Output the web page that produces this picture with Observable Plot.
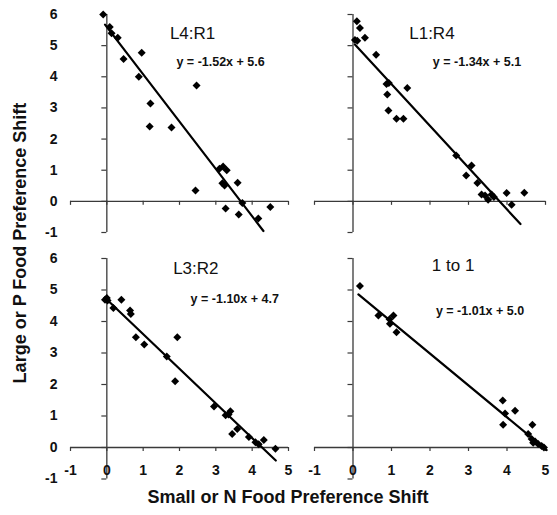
<!DOCTYPE html>
<html>
<head>
<meta charset="utf-8">
<script src="https://cdn.jsdelivr.net/npm/d3@7"></script>
<script src="https://cdn.jsdelivr.net/npm/@observablehq/plot@0.6"></script>
<style>
  body { margin: 0; background: #fff; }
  #chart { position: relative; width: 557px; height: 515px; overflow: hidden;
           font-family: "Liberation Sans", Arial, Helvetica, sans-serif; color: #111; }
  #chart svg { position: absolute; overflow: visible; background: none; }
  .title { position: absolute; font-weight: bold; font-size: 18px; text-align: center; white-space: nowrap; }
  #ytitle { left: -140px; top: 232px; width: 320px; height: 22px; line-height: 22px; transform: rotate(-90deg); }
  #xtitle { left: 88px; top: 486px; width: 400px; line-height: 22px; }
</style>
</head>
<body>
<div id="chart">
  <div class="title" id="ytitle">Large or P Food Preference Shift</div>
  <div class="title" id="xtitle">Small or N Food Preference Shift</div>
</div>
<script>
// Ratio conditions, one per panel
const panelNames = ["L4:R1", "L1:R4", "L3:R2", "1 to 1"];

// Fitted linear trends (y = slope·x + intercept) and the x span they cover
const slopes = [-1.52, -1.34, -1.10, -1.01];
const intercepts = [5.6, 5.1, 4.7, 5.0];
const fitStart = [-0.05, 0.05, 0.0, 0.14];
const fitEnd = [4.31, 4.35, 4.65, 5.03];

// Preference shifts: small / N food (x) vs large / P food (y)
const xL4R1 = [-0.1, 0.08, 0.13, 0.3, 0.46, 0.96, 0.88, 1.2, 1.18, 1.78, 2.47, 2.44, 3.1, 3.2, 3.3, 3.18, 3.24, 3.6, 3.27, 3.73, 3.63, 4.17, 4.5];
const yL4R1 = [6.0, 5.6, 5.4, 5.25, 4.57, 4.77, 4.0, 3.14, 2.4, 2.37, 3.72, 0.35, 1.05, 1.12, 1.0, 0.58, 0.51, 0.6, -0.23, -0.05, -0.42, -0.55, -0.18];

const xL1R4 = [0.10, 0.18, 0.05, 0.11, 0.31, 0.6, 0.87, 0.93, 0.89, 0.92, 1.13, 1.31, 1.41, 2.68, 3.08, 2.94, 3.23, 3.34, 3.43, 3.51, 3.6, 3.66, 3.99, 4.12, 4.45];
const yL1R4 = [5.78, 5.57, 5.18, 5.16, 5.25, 4.71, 3.77, 3.8, 3.43, 2.92, 2.65, 2.65, 3.64, 1.47, 1.15, 0.83, 0.59, 0.22, 0.19, 0.05, 0.22, 0.14, 0.27, -0.11, 0.28];

const xL3R2 = [-0.05, 0.02, 0.0, 0.18, 0.4, 0.64, 0.66, 0.8, 1.03, 1.65, 1.94, 1.88, 2.95, 3.27, 3.4, 3.35, 3.45, 3.59, 3.91, 4.09, 4.32, 4.18, 4.64];
const yL3R2 = [4.69, 4.67, 4.75, 4.43, 4.69, 4.35, 4.24, 3.5, 3.27, 2.89, 3.5, 2.1, 1.3, 1.02, 1.15, 1.05, 0.43, 0.59, 0.33, 0.17, 0.24, 0.1, -0.04];

const x1to1 = [0.18, 0.66, 0.95, 1.05, 0.96, 1.13, 3.89, 3.95, 3.9, 4.21, 4.66, 4.55, 4.64, 4.73, 4.81, 4.9, 4.96, 4.68];
const y1to1 = [5.13, 4.19, 4.07, 4.19, 3.93, 3.66, 1.49, 1.08, 0.72, 1.17, 0.72, 0.43, 0.27, 0.19, 0.11, 0.05, 0.0, 0.15];

const xValues = [xL4R1, xL1R4, xL3R2, x1to1];
const yValues = [yL4R1, yL1R4, yL3R2, y1to1];

// Axis ticks
const xTicks = [-1, 0, 1, 2, 3, 4, 5];
const yTicks = [-1, 0, 1, 2, 3, 4, 5, 6];

// Panel boxes within the figure (2 × 2 grid)
const layout = [
  {left: 0,   top: 0,   width: 290, height: 240, mL: 70, mR: 2,  mT: 14, mB: 8,    yLabels: true,  xLabels: false,
   nameAt: [2.36, 5.38], eqAt: [3.13, 4.46]},
  {left: 290, top: 0,   width: 267, height: 240, mL: 24, mR: 12, mT: 14, mB: 8,    yLabels: false, xLabels: false,
   nameAt: [2.05, 5.38], eqAt: [3.22, 4.46]},
  {left: 0,   top: 240, width: 290, height: 275, mL: 70, mR: 2,  mT: 18, mB: 36.5, yLabels: true,  xLabels: true,
   nameAt: [2.45, 5.68], eqAt: [3.52, 4.70]},
  {left: 290, top: 240, width: 267, height: 275, mL: 24, mR: 12, mT: 18, mB: 36.5, yLabels: false, xLabels: true,
   nameAt: [2.6, 5.79], eqAt: [3.3, 4.33]}
];

const axisColor = "#3a3a3a";
const chart = document.getElementById("chart");

layout.forEach((box, i) => {
  const points = xValues[i].map((x, j) => ({x, y: yValues[i][j]}));
  const fit = [fitStart[i], fitEnd[i]].map(x => ({x, y: slopes[i] * x + intercepts[i]}));
  const eqText = `y = ${slopes[i].toFixed(2)}x + ${intercepts[i].toFixed(1)}`;

  // tick lengths converted from pixels into data units
  const pxPerX = (box.width - box.mL - box.mR) / 6;
  const pxPerY = (box.height - box.mT - box.mB) / 7;
  const xTickLen = 4 / pxPerY;
  const yTickLen = 5 / pxPerX;

  const marks = [
    // axes crossing at the origin
    Plot.ruleY([0], {x1: -1, x2: 5, stroke: axisColor, strokeWidth: 1.3}),
    Plot.ruleX([0], {y1: -1, y2: 6, stroke: axisColor, strokeWidth: 1.3}),
    Plot.ruleX(xTicks, {x: d => d, y1: 0, y2: -xTickLen, stroke: axisColor, strokeWidth: 1.2}),
    Plot.ruleY(yTicks, {y: d => d, x1: 0, x2: -yTickLen, stroke: axisColor, strokeWidth: 1.2}),
    // trend line and observations
    Plot.line(fit, {x: "x", y: "y", stroke: "#000", strokeWidth: 2.2}),
    Plot.dot(points, {x: "x", y: "y", symbol: "diamond2", r: 3.6, fill: "#000", stroke: "none"}),
    // panel name and fitted equation
    Plot.text([panelNames[i]], {x: box.nameAt[0], y: box.nameAt[1], text: d => d,
      fontSize: 17, fill: "#111"}),
    Plot.text([eqText], {x: box.eqAt[0], y: box.eqAt[1], text: d => d,
      fontSize: 12.5, fontWeight: "bold", fill: "#111"})
  ];
  if (box.yLabels) {
    marks.push(Plot.text(yTicks, {x: -1, y: d => d, text: d => String(d), dx: -13,
      textAnchor: "end", fontSize: 14, fontWeight: "bold", fill: "#111"}));
  }
  if (box.xLabels) {
    marks.push(Plot.text(xTicks, {x: d => d, y: 0, text: d => String(d), dy: 23,
      fontSize: 14, fontWeight: "bold", fill: "#111"}));
  }

  const svg = Plot.plot({
    width: box.width,
    height: box.height,
    marginLeft: box.mL,
    marginRight: box.mR,
    marginTop: box.mT,
    marginBottom: box.mB,
    x: {domain: [-1, 5], axis: null},
    y: {domain: [-1, 6], axis: null},
    style: {fontFamily: "'Liberation Sans', Arial, Helvetica, sans-serif", background: "none", overflow: "visible"},
    marks
  });
  svg.style.left = box.left + "px";
  svg.style.top = box.top + "px";
  chart.appendChild(svg);
});
</script>
</body>
</html>
